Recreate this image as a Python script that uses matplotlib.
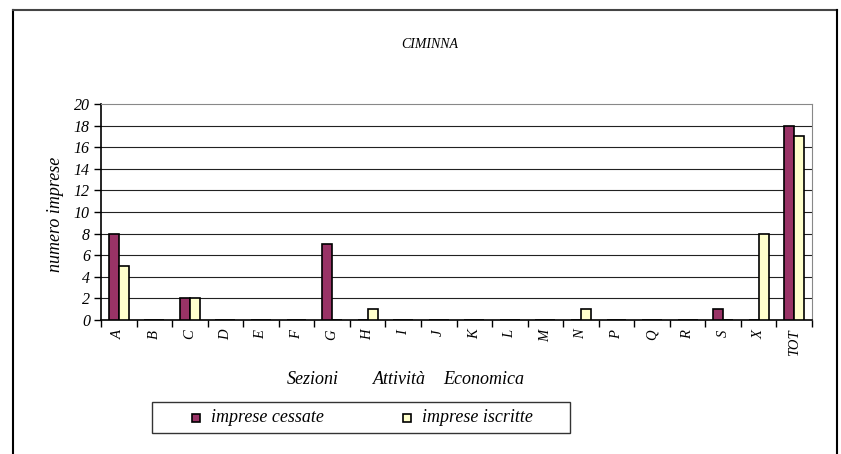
import numpy as np
import matplotlib.pyplot as plt
from matplotlib.lines import Line2D
from matplotlib.patches import Rectangle

plt.rcParams['font.family'] = 'Liberation Serif'
plt.rcParams['font.style'] = 'italic'

# data
sezioni = ['A', 'B', 'C', 'D', 'E', 'F', 'G', 'H', 'I', 'J', 'K', 'L', 'M',
           'N', 'P', 'Q', 'R', 'S', 'X', 'TOT']
cessate = [8, 0, 2, 0, 0, 0, 7, 0, 0, 0, 0, 0, 0, 0, 0, 0, 0, 1, 0, 18]
iscritte = [5, 0, 2, 0, 0, 0, 0, 1, 0, 0, 0, 0, 0, 1, 0, 0, 0, 0, 8, 17]
yticks = list(range(0, 21, 2))

col_cess = '#993366'
col_iscr = '#FFFFCC'

W, H = 841, 454
fig = plt.figure(figsize=(W / 100, H / 100), dpi=100)
ax = fig.add_axes([101 / W, 1 - 320 / H, 711 / W, 216 / H])

x = np.arange(len(sezioni))
w = 0.28
ax.bar(x - w / 2, cessate, w, color=col_cess, edgecolor='black', linewidth=1.2, zorder=3)
ax.bar(x + w / 2, iscritte, w, color=col_iscr, edgecolor='black', linewidth=1.2, zorder=3)

ax.set_xlim(-0.5, len(sezioni) - 0.5)
ax.set_ylim(0, 20)
ax.set_yticks(yticks)
ax.set_yticklabels([str(v) for v in yticks], fontsize=11.5)
for v in yticks[1:-1]:
    ax.axhline(v, color='#222222', lw=0.8, zorder=1)

# ticks between categories, labels at centers
ax.set_xticks(np.arange(-0.5, len(sezioni), 1))
ax.set_xticklabels([])
ax.set_xticks(x, minor=True)
ax.set_xticklabels(sezioni, minor=True, rotation=90, fontsize=10.5)
ax.tick_params(axis='x', which='minor', length=0, pad=7)
ax.tick_params(axis='x', which='major', direction='out', length=5, width=1)
ax.tick_params(axis='y', direction='out', length=5, width=1, pad=3)

ax.spines['top'].set_color('#888888')
ax.spines['right'].set_color('#888888')
ax.spines['left'].set_linewidth(1.2)
ax.spines['bottom'].set_linewidth(1.2)

fig.text(430 / W, 1 - 45 / H, 'CIMINNA', ha='center', va='center', fontsize=10)
fig.text(55 / W, 1 - 214 / H, 'numero imprese', rotation=90, ha='center', va='center', fontsize=13)
for px, word in [(287, 'Sezioni'), (373, 'Attività'), (443, 'Economica')]:
    fig.text(px / W, 1 - 380 / H, word, ha='left', va='center', fontsize=13)

# outer frame (open at bottom)
fig.add_artist(Line2D([12.5 / W, 12.5 / W], [0, 1 - 10 / H], color='black', lw=1.5))
fig.add_artist(Line2D([12.5 / W, 837 / W], [1 - 10 / H, 1 - 10 / H], color='#444444', lw=1.5))
fig.add_artist(Line2D([837 / W, 837 / W], [0, 1 - 10 / H], color='black', lw=1.5))

# legend box drawn by hand
fig.add_artist(Rectangle((152 / W, 1 - 433 / H), 418 / W, 31 / H, transform=fig.transFigure,
                         facecolor='white', edgecolor='#333333', lw=1))
for mx, txt, c in [(192, 'imprese cessate', col_cess), (403, 'imprese iscritte', col_iscr)]:
    fig.add_artist(Rectangle((mx / W, 1 - 422 / H), 8 / W, 8 / H, transform=fig.transFigure,
                             facecolor=c, edgecolor='black', lw=1.2))
    fig.text((mx + 19) / W, 1 - 418 / H, txt, ha='left', va='center', fontsize=13)

fig.savefig('out.png', dpi=100)
